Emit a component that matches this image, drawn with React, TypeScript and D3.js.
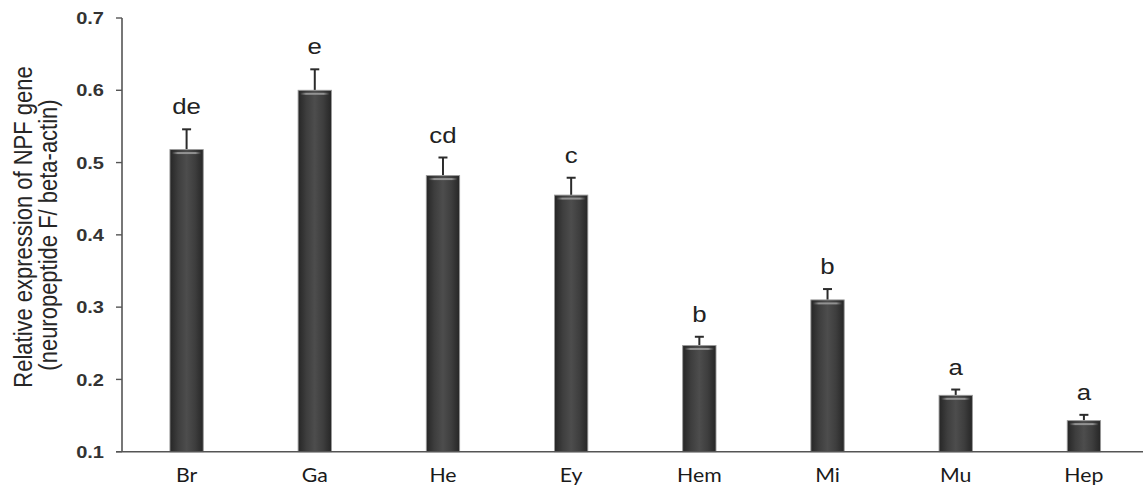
import React from "react";
import * as d3 from "d3";

// Relative NPF gene expression by tissue
const tissues = ["Br", "Ga", "He", "Ey", "Hem", "Mi", "Mu", "Hep"];
const expression = [0.518, 0.6, 0.482, 0.455, 0.247, 0.31, 0.178, 0.143];
const stdErr = [0.028, 0.029, 0.025, 0.024, 0.012, 0.015, 0.008, 0.008];
const groupLetters = ["de", "e", "cd", "c", "b", "b", "a", "a"];
const yTicks = [0.1, 0.2, 0.3, 0.4, 0.5, 0.6, 0.7];

const W = 1143;
const H = 488;

export default function App() {
  const y = d3.scaleLinear().domain([0.1, 0.7]).range([451.7, 18]);
  const x = d3
    .scaleBand<string>()
    .domain(tissues)
    .range([122.5, 1148])
    .paddingInner(0.74)
    .paddingOuter(0.37);
  const bw = x.bandwidth();
  const axisX = 122;
  const baseY = y(0.1);
  const titleFont = "'Liberation Sans', Arial, sans-serif";

  return (
    <svg
      width={W}
      height={H}
      viewBox={`0 0 ${W} ${H}`}
      style={{ position: "absolute", left: 0, top: 0, display: "block", background: "#fff" }}
    >
      <defs>
        <linearGradient id="barShade" x1="0" x2="1" y1="0" y2="0">
          <stop offset="0" stopColor="#262626" />
          <stop offset="0.25" stopColor="#3e3e3e" />
          <stop offset="0.5" stopColor="#4d4d4d" />
          <stop offset="0.75" stopColor="#3e3e3e" />
          <stop offset="1" stopColor="#262626" />
        </linearGradient>
        <linearGradient id="barGloss" x1="0" x2="1" y1="0" y2="0">
          <stop offset="0" stopColor="#8a8a8a" stopOpacity="0" />
          <stop offset="0.2" stopColor="#9a9a9a" stopOpacity="0.9" />
          <stop offset="0.8" stopColor="#9a9a9a" stopOpacity="0.9" />
          <stop offset="1" stopColor="#8a8a8a" stopOpacity="0" />
        </linearGradient>
      </defs>

      {/* y-axis title, two rotated lines, slightly widened glyphs */}
      <g transform="scale(1.2,1)" fontFamily={titleFont} fill="#262626" fontSize={22}>
        <text transform="translate(26.7,227) rotate(-90)" x={0} y={0} textAnchor="middle">
          Relative expression of NPF gene
        </text>
        <text transform="translate(47.5,235) rotate(-90)" x={0} y={0} textAnchor="middle">
          (neuropeptide F/ beta-actin)
        </text>
      </g>

      {/* y axis */}
      <line x1={axisX} x2={axisX} y1={y(0.7)} y2={baseY} stroke="#555" strokeWidth={1.6} />
      {yTicks.map((t) => (
        <g key={t}>
          <line x1={axisX - 6} x2={axisX} y1={y(t)} y2={y(t)} stroke="#555" strokeWidth={1.4} />
          <g transform={`translate(104,${y(t)}) scale(1.18,1)`}>
            <text
              x={0}
              y={0}
              dy="0.36em"
              textAnchor="end"
              fontFamily={titleFont}
              fontWeight="bold"
              fontSize={17}
              fill="#333"
            >
              {d3.format(".1f")(t)}
            </text>
          </g>
        </g>
      ))}

      {/* bars with error bars and group letters */}
      {tissues.map((c, i) => {
        const x0 = x(c) as number;
        const top = y(expression[i]);
        const errTop = y(expression[i] + stdErr[i]);
        const cx = x0 + bw / 2;
        return (
          <g key={c}>
            <line x1={cx} x2={cx} y1={top} y2={errTop} stroke="#2b2b2b" strokeWidth={2} />
            <line x1={cx - 4.5} x2={cx + 4.5} y1={errTop} y2={errTop} stroke="#2b2b2b" strokeWidth={2} />
            <rect
              x={x0}
              y={top}
              width={bw}
              height={baseY - top}
              fill="url(#barShade)"
              stroke="#9a9a9a"
              strokeWidth={0.9}
            />
            <rect x={x0 + 2} y={top + 2.5} width={bw - 4} height={2} fill="url(#barGloss)" />
            <g transform={`translate(${cx},${errTop - 15}) scale(1.2,1)`}>
              <text x={0} y={0} textAnchor="middle" fontFamily={titleFont} fontSize={21.5} fill="#222">
                {groupLetters[i]}
              </text>
            </g>
          </g>
        );
      })}

      {/* x axis */}
      <line x1={axisX - 6} x2={W} y1={baseY} y2={baseY} stroke="#555" strokeWidth={1.6} />
      {tissues.map((c) => (
        <g key={`lbl-${c}`} transform={`translate(${(x(c) as number) + bw / 2},481.5) scale(1.12,1)`}>
          <text x={0} y={0} textAnchor="middle" fontFamily="Lato, 'Open Sans', sans-serif" fontSize={19} fill="#1a1a1a">
            {c}
          </text>
        </g>
      ))}
    </svg>
  );
}
